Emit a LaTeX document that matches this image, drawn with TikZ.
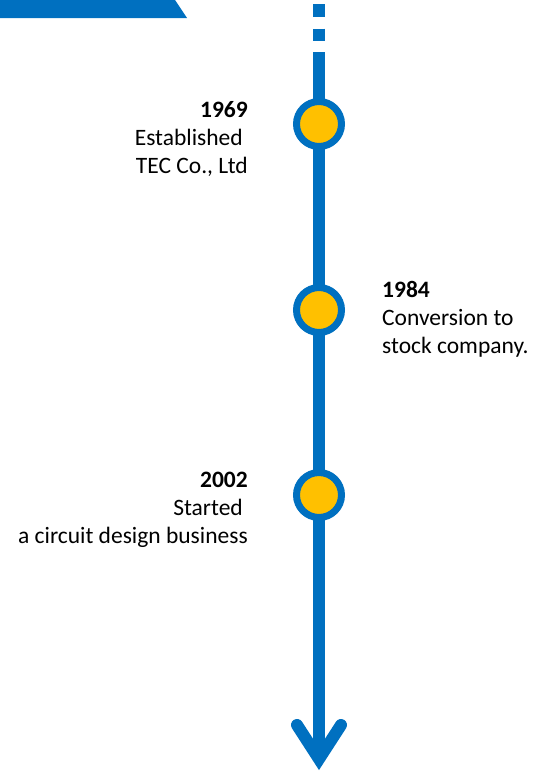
\documentclass[tikz,border=0pt]{standalone}
\usepackage{fontspec}
\setmainfont{Carlito}
\usetikzlibrary{positioning}
\definecolor{tecblue}{HTML}{0070C0}
\definecolor{tecyellow}{HTML}{FFC000}
\tikzset{
	milestone/.style={circle, draw=tecblue, fill=tecyellow, line width=7pt, minimum size=45pt, inner sep=0pt},
	yeartext/.style={inner sep=0pt, font=\fontsize{23.5}{28}\selectfont},
	timeline/.style={draw=tecblue, line width=12pt}
}

\begin{document}
\begin{tikzpicture}[x=1pt, y=-1pt]
		%%%%% START %%%%%
		\useasboundingbox (0, 0) rectangle (547, 771);
		
		% header band (cut off at the top)
		\fill[tecblue] (0, 0) -- (175, 0) -- (187, 18) -- (0, 18) -- cycle;
		
		% time line
		\coordinate (dashtop) at (319, 4);
		\coordinate (dashend) at (319, 41);
		\coordinate (linetop) at (319, 52);
		\coordinate (lineend) at (319, 755);
		\coordinate (wingl) at (297, 725);
		\coordinate (tip) at (319, 759);
		\coordinate (wingr) at (341, 725);
		
		\draw[timeline, dash pattern=on 12.5pt off 12pt] (dashtop) -- (dashend);
		\draw[timeline] (linetop) -- (lineend);
		\draw[timeline, line cap=round, line join=miter] (wingl) -- (tip) -- (wingr);
		
		% milestones
		\node[milestone] (c1969) at (319, 124) {};
		\node[milestone] (c1984) at (319, 310) {};
		\node[milestone] (c2002) at (319, 495) {};
		
		% texts, placed at the baseline of their last line
		\node[yeartext, anchor=base east, align=right] (t1969) at (248, 173)
			{\textbf{1969}\\Established\kern5pt\\TEC Co., Ltd};
		\node[yeartext, anchor=base west, align=left] (t1984) at (382, 353)
			{\textbf{1984}\\Conversion to\\stock company.};
		\node[yeartext, anchor=base east, align=right] (t2002) at (248, 543)
			{\textbf{2002}\\Started\kern5pt\\a circuit design business};
		
		%%%%% END %%%%%
	\end{tikzpicture}
\end{document}
